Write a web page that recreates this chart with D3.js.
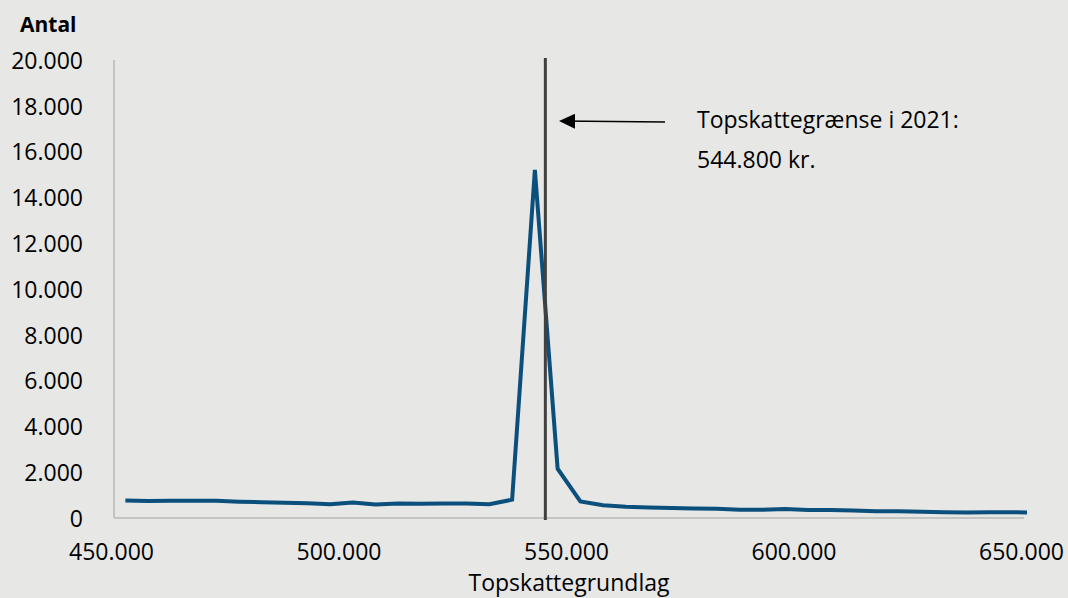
<!DOCTYPE html>
<html><head>
<meta charset="utf-8">
<title>Topskattegrundlag</title>
<script src="https://d3js.org/d3.v7.min.js"></script>
<style>
  body { margin: 0; background: #e7e7e5; }
  text { font-family: "Open Sans", sans-serif; fill: #000; }
  .tick text { font-size: 23px; }
</style>
</head>
<body>
<svg id="chart" width="1068" height="598"></svg>
<script>
// bin centres (kr.) and number of taxpayers in each bin
const bins = [452500, 457500, 462500, 467500, 472500, 477500, 482500, 487500, 492500, 497500,
              502500, 507500, 512500, 517500, 522500, 527500, 532500, 537500, 542500, 547500,
              552500, 557500, 562500, 567500, 572500, 577500, 582500, 587500, 592500, 597500,
              602500, 607500, 612500, 617500, 622500, 627500, 632500, 637500, 642500, 647500,
              652500];
const counts = [760, 740, 750, 750, 750, 710, 690, 670, 640, 600,
                680, 590, 630, 620, 630, 630, 600, 800, 15200, 2150,
                720, 560, 490, 460, 440, 420, 400, 360, 360, 390,
                350, 350, 330, 290, 300, 270, 250, 240, 250, 250,
                240];
const xTicks = [450000, 500000, 550000, 600000, 650000];
const yTicks = [0, 2000, 4000, 6000, 8000, 10000, 12000, 14000, 16000, 18000, 20000];
const threshold = 544800;

const svg = d3.select("#chart");
const pLeft = 114, pRight = 1024, pTop = 60, pBottom = 518;

const da = d3.formatLocale({decimal: ",", thousands: ".", grouping: [3], currency: ["", " kr."]});
const fmt = da.format(",");

const x = d3.scaleLinear().domain([450000, 650000]).range([pLeft, pRight]);
const y = d3.scaleLinear().domain([0, 20000]).range([pBottom, pTop]);

// axis lines
svg.append("line").attr("x1", pLeft).attr("x2", pLeft).attr("y1", pTop).attr("y2", pBottom)
   .attr("stroke", "#c4c4c2").attr("stroke-width", 2);
svg.append("line").attr("x1", pLeft).attr("x2", pRight).attr("y1", pBottom).attr("y2", pBottom)
   .attr("stroke", "#c4c4c2").attr("stroke-width", 2);

// y axis labels
const yAxis = svg.append("g").attr("transform", `translate(${83},0)`)
   .call(d3.axisLeft(y).tickValues(yTicks).tickFormat(fmt).tickSize(0).tickPadding(0));
yAxis.select(".domain").remove();
yAxis.selectAll("text").attr("dy", "0.36em");

// x axis labels
const xAxis = svg.append("g").attr("transform", `translate(-3,${544})`)
   .call(d3.axisBottom(x).tickValues(xTicks).tickFormat(fmt).tickSize(0).tickPadding(0));
xAxis.select(".domain").remove();

// data line
svg.append("clipPath").attr("id", "plotclip")
   .append("rect").attr("x", pLeft).attr("y", 0).attr("width", pRight - pLeft + 3).attr("height", pBottom + 5);

const pts = bins.map((b, i) => [b, counts[i]]);
svg.append("path").datum(pts)
   .attr("clip-path", "url(#plotclip)")
   .attr("fill", "none")
   .attr("stroke", "#0b4f7c")
   .attr("stroke-width", 4)
   .attr("stroke-linejoin", "miter")
   .attr("d", d3.line().x(d => x(d[0])).y(d => y(d[1])));

// threshold line
svg.append("line").attr("x1", x(threshold)).attr("x2", x(threshold))
   .attr("y1", 58).attr("y2", 520)
   .attr("stroke", "#404040").attr("stroke-width", 3);

// arrow annotation
svg.append("defs").append("marker").attr("id", "arrow")
   .attr("viewBox", "0 0 16 15").attr("refX", 14).attr("refY", 7.5)
   .attr("markerWidth", 16).attr("markerHeight", 15).attr("markerUnits", "userSpaceOnUse")
   .attr("orient", "auto")
   .append("path").attr("d", "M0,0 L16,7.5 L0,15 Z").attr("fill", "#000");
svg.append("line").attr("x1", 665).attr("x2", 561).attr("y1", 122).attr("y2", 121)
   .attr("stroke", "#000").attr("stroke-width", 1.6)
   .attr("marker-end", "url(#arrow)");

const note = svg.append("text").attr("x", 697).attr("y", 128).style("font-size", "23px");
note.append("tspan").attr("x", 697).text("Topskattegrænse i 2021:");
note.append("tspan").attr("x", 697).attr("dy", 40).text(fmt(threshold) + " kr.");

// titles
svg.append("text").attr("x", 20).attr("y", 32)
   .style("font-size", "21px").style("font-weight", "bold").text("Antal");
svg.append("text").attr("x", 569).attr("y", 591).attr("text-anchor", "middle")
   .style("font-size", "23px").text("Topskattegrundlag");
</script>
</body>
</html>
